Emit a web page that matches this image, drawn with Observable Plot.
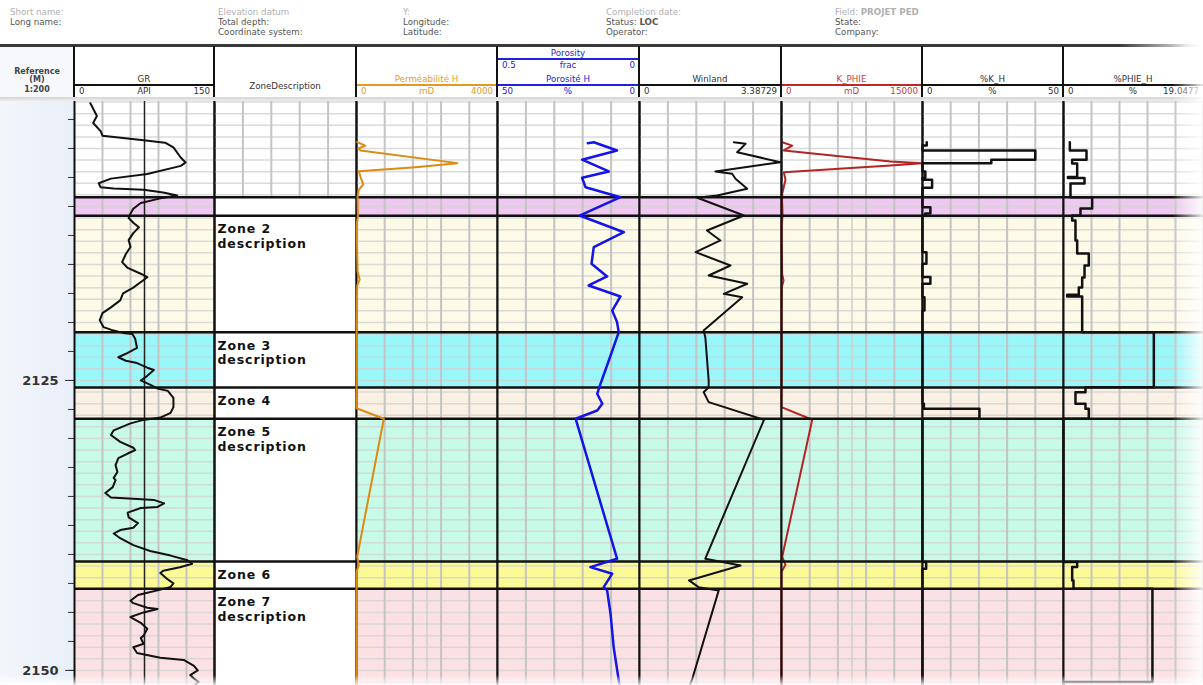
<!DOCTYPE html>
<html><head><meta charset="utf-8">
<script src="https://cdn.jsdelivr.net/npm/d3@7"></script>
<script src="https://cdn.jsdelivr.net/npm/@observablehq/plot@0.6"></script>
<style>
html,body{margin:0;padding:0;background:#fff;}
#root{position:relative;width:1203px;height:685px;overflow:hidden;background:#fff;font-family:"DejaVu Sans",Verdana,sans-serif;}
.t{position:absolute;white-space:nowrap;line-height:1;font-size:8.7px;}
.b{position:absolute;}
.zd text{letter-spacing:0.9px;}
svg{overflow:visible;}
</style></head><body><div id="root"></div>
<script>
// ---------------- DATA ----------------
const depthRange = [2100.95, 2151.3];
const depthMinorTicks = [2102.5,2105,2107.5,2110,2112.5,2115,2117.5,2120,2122.5,2125,2127.5,2130,2132.5,2135,2137.5,2140,2142.5,2145,2147.5,2150];
const depthMajorTicks = [2125, 2150];

const trackNames = ["GR", "ZoneDescription", "Perméabilité H", "Porosité H", "Winland", "K_PHIE", "%K_H", "%PHIE_H"];
const trackUnits = ["API", "", "mD", "%", "", "mD", "%", "%"];
const trackMinLabels = ["0", "", "0", "50", "0", "0", "0", "0"];
const trackMaxLabels = ["150", "", "4000", "0", "3.38729", "15000", "50", "19.0477"];
const trackDomains = [[0,150],[0,1],[0,4000],[50,0],[0,3.38729],[0,15000],[0,50],[0,19.0477]];
const porosityGroup = ["Porosity", "frac", "0.5", "0"];
const grCutoff = [75];

const zoneTop = [2109.2, 2110.8, 2120.85, 2125.6, 2128.3, 2140.6, 2142.95];
const zoneLabel = ["", "Zone 2\ndescription", "Zone 3\ndescription", "Zone 4", "Zone 5\ndescription", "Zone 6", "Zone 7\ndescription"];

const infoRow1 = ["Short name:", "Elevation datum", "Y:", "Completion date:", "Field: <b>PROJET PED</b>"];
const infoRow2 = ["Long name:", "Total depth:", "Longitude:", "Status: <b>LOC</b>", "State:"];
const infoRow3 = ["", "Coordinate system:", "Latitude:", "Operator:", "Company:"];

// [depth, value]
const grLog = [[2101.1,17],[2102.2,24],[2102.8,20],[2103.5,28],[2103.9,30],[2104.3,74],[2104.5,97],[2104.9,106],[2105.8,114],[2106.2,119],[2106.5,114],[2107.2,78],[2107.6,39],[2108.0,26],[2108.35,28],[2108.45,42],[2108.55,74],[2108.8,95],[2109.05,110],[2109.3,92],[2109.7,71],[2110.2,63],[2110.6,60],[2111.0,58],[2111.4,63],[2111.8,69],[2112.3,63],[2112.9,58],[2113.5,60],[2114.1,55],[2114.8,51],[2115.3,57],[2115.8,71],[2116.1,78],[2116.4,73],[2117.0,63],[2117.5,52],[2118.1,49],[2118.4,44],[2118.7,39],[2119.2,30],[2119.8,27],[2120.4,31],[2120.7,42],[2120.9,52],[2121.0,62],[2121.4,65],[2122.2,67],[2122.7,55],[2123.0,47],[2123.3,55],[2123.5,67],[2123.9,78],[2124.1,85],[2124.6,78],[2125.0,71],[2125.4,82],[2125.7,89],[2125.9,100],[2126.5,106],[2127.3,106],[2127.8,103],[2128.2,92],[2128.4,74],[2128.7,60],[2129.3,42],[2129.7,39],[2130.3,49],[2130.8,63],[2131.0,65],[2131.3,57],[2131.7,47],[2132.3,44],[2132.9,46],[2133.4,42],[2133.6,44],[2134.2,41],[2134.7,33],[2135.1,39],[2135.2,63],[2135.3,85],[2135.6,96],[2135.9,89],[2136.0,71],[2136.4,57],[2136.8,58],[2137.3,68],[2137.7,63],[2137.9,49],[2138.2,42],[2138.6,49],[2139.2,63],[2139.7,81],[2140.1,103],[2140.5,121],[2140.8,126],[2141.1,113],[2141.4,95],[2141.6,92],[2142.1,99],[2142.5,106],[2142.8,103],[2143.1,89],[2143.3,78],[2143.5,68],[2144.0,60],[2144.2,63],[2144.6,78],[2144.7,89],[2145.0,74],[2145.4,60],[2145.9,71],[2146.4,78],[2147.0,74],[2147.2,71],[2147.7,74],[2148.0,63],[2148.5,67],[2148.9,92],[2149.1,117],[2149.6,128],[2150.0,132],[2150.4,124],[2150.7,128],[2151.0,133],[2151.3,128]];

const permLog = [[2104.45,20],[2104.75,250],[2105.0,60],[2105.17,110],[2106.09,2430],[2106.27,2860],[2106.61,1670],[2106.96,65],[2107.5,120],[2108.1,190],[2108.6,60],[2109.2,30],[2110.8,40],[2111.5,10],[2113.5,15],[2115.6,30],[2116.3,90],[2116.8,20],[2118.5,10],[2121.0,5],[2124.0,5],[2127.4,0],[2128.3,775],[2140.2,20],[2140.9,66],[2141.5,0],[2151.3,0]];

const porLog = [[2104.54,18.2],[2104.46,16.1],[2105.17,7.9],[2105.97,20.2],[2106.98,10.8],[2107.53,20.2],[2108.34,19.0],[2109.20,6.7],[2110.78,21.1],[2112.22,5.5],[2113.51,16.1],[2114.94,16.9],[2116.03,11.4],[2116.81,17.9],[2117.76,6.7],[2118.97,9.6],[2119.97,7.9],[2120.84,7.3],[2123.28,10.8],[2125.28,13.7],[2126.15,14.9],[2127.01,13.1],[2127.59,14.9],[2128.30,22.5],[2140.37,7.9],[2141.09,17.3],[2141.66,9.6],[2142.82,12.6],[2143.10,11.4],[2145.11,10.2],[2147.99,9.1],[2150.86,7.3],[2151.3,7.0]];

const winLog = [[2104.46,2.25],[2104.60,2.53],[2105.32,2.33],[2106.18,3.36],[2106.98,1.81],[2107.18,2.21],[2107.61,2.29],[2108.47,2.57],[2109.05,1.85],[2109.25,1.38],[2110.78,2.49],[2112.07,1.61],[2112.93,1.93],[2113.94,1.34],[2115.09,2.17],[2115.95,1.65],[2116.66,2.57],[2117.53,2.01],[2117.82,2.45],[2120.69,1.53],[2121.27,1.57],[2125.0,1.65],[2125.58,1.65],[2126.01,1.53],[2126.87,1.65],[2128.39,2.97],[2140.37,1.57],[2140.95,2.41],[2142.24,1.18],[2142.82,1.41],[2143.10,1.89],[2150.72,1.26],[2151.3,1.2]];

const kphieLog = [[2104.46,75],[2104.75,1140],[2105.17,245],[2106.12,11600],[2106.27,14970],[2106.47,11600],[2107.04,245],[2107.7,426],[2108.3,245],[2108.9,75],[2109.5,60],[2110.8,120],[2111.5,30],[2113.0,30],[2115.8,60],[2116.4,220],[2116.9,40],[2119.0,20],[2124.0,20],[2127.3,0],[2128.39,3270],[2140.2,75],[2140.9,426],[2141.5,0],[2151.3,0]];

const khLog = [[2104.46,1.5],[2104.74,0],[2105.17,40],[2105.97,24.4],[2106.27,0],[2106.98,1],[2107.55,0],[2107.70,3.4],[2108.39,0],[2110.06,2.8],[2110.6,1],[2110.78,0],[2113.94,1.4],[2114.94,0],[2116.09,2.8],[2116.66,0],[2117.82,0.7],[2118.97,0],[2127.01,0.5],[2127.44,20.2],[2128.30,0],[2140.66,1.3],[2141.23,0],[2151.3,0]];

const phieLog = [[2104.46,0.86],[2105.17,3.13],[2105.97,1.18],[2106.29,1.86],[2107.45,0.6],[2107.55,2.86],[2108.02,0.95],[2109.20,3.90],[2110.17,2.31],[2110.78,1.18],[2111.21,1.63],[2112.93,1.86],[2114.05,3.44],[2115.09,2.86],[2116.12,2.54],[2116.98,2.08],[2117.62,0.5],[2117.76,2.54],[2120.84,12.29],[2125.58,2.99],[2126.01,1.63],[2127.01,2.99],[2127.44,3.44],[2128.30,0],[2140.66,1.86],[2141.09,1.18],[2142.24,1.36],[2142.96,12.1],[2151.0,0],[2151.3,0]];

// ---------------- LAYOUT / STYLE ----------------
const trackEdges = [74, 214, 356, 497, 639, 781, 922, 1063, 1203];
const trackHeaderColors = ["#333", "#333", "#e39b2d", "#2424d4", "#333", "#c83c3c", "#333", "#333"];
const trackLineColors = ["#111", null, "#e39a22", "#2020e0", "#111", "#c02828", "#111", "#111"];
const zoneColor = ["#eec8f0", "#fdfae8", "#99f7fa", "#faf0e4", "#c8fae8", "#fcfa96", "#fce1e4"];
const infoCols = [10, 218, 403, 606, 835];
const PLOT_TOP = 101, PLOT_H = 584;

const root = document.getElementById("root");
function box(x, y, w, h, bg) {
  const el = document.createElement("div");
  el.className = "b";
  Object.assign(el.style, {left: x + "px", top: y + "px", width: w + "px", height: h + "px", background: bg});
  root.appendChild(el);
  return el;
}
function text(x, y, s, o = {}) {
  const el = document.createElement("div");
  el.className = "t";
  const tx = o.anchor === "middle" ? "-50%" : o.anchor === "end" ? "-100%" : "0";
  Object.assign(el.style, {left: x + "px", top: y + "px", color: o.color || "#333",
    fontSize: (o.size || 8.7) + "px", fontWeight: o.weight || "normal", transform: `translate(${tx},-50%)`});
  el.innerHTML = s;
  root.appendChild(el);
  return el;
}

// backgrounds
box(0, 46, 74, 51, "#f6f8fb");
box(0, PLOT_TOP, 74, PLOT_H, "linear-gradient(to right,#f3f6fb,#e9eff8)");

// info header
infoCols.forEach((x, i) => {
  text(x, 12, infoRow1[i], {color: "#b0b0b0"});
  text(x, 21.5, infoRow2[i], {color: "#555"});
  text(x, 32, infoRow3[i], {color: "#555"});
});
box(0, 44, 1203, 2.5, "linear-gradient(to right,#3a3a3a 0,#3a3a3a 93%,rgba(58,58,58,0) 100%)");

// track headers
text(37, 71.5, "Reference", {anchor: "middle", weight: "bold", size: 8, color: "#444"});
text(37, 80, "(M)", {anchor: "middle", weight: "bold", size: 8, color: "#444"});
text(37, 89.5, "1:200", {anchor: "middle", weight: "bold", size: 8, color: "#444"});
trackNames.forEach((name, i) => {
  const L = trackEdges[i], W = trackEdges[i + 1] - L, cx = L + W / 2, c = trackHeaderColors[i];
  if (i === 1) { text(cx, 86, name, {anchor: "middle", color: c}); return; }
  text(cx, 78.5, name, {anchor: "middle", color: c});
  box(L, 83.5, W, 2.2, trackLineColors[i]);
  text(L + 5, 91, trackMinLabels[i], {color: c});
  text(cx, 91, trackUnits[i], {anchor: "middle", color: c});
  text(L + W - 4, 91, trackMaxLabels[i], {anchor: "end", color: c});
  if (i === 3) {
    text(cx, 52.5, porosityGroup[0], {anchor: "middle", color: c});
    box(L, 58, W, 2.2, trackLineColors[i]);
    text(cx, 65, porosityGroup[1], {anchor: "middle", color: c});
    text(L + 5, 65, porosityGroup[2], {color: c});
    text(L + W - 4, 65, porosityGroup[3], {anchor: "end", color: c});
  }
});
trackEdges.slice(0, -1).forEach(x => box(x - 1, 46, 2, 51, "#111"));
box(0, 96.5, 1203, 4.5, "linear-gradient(to bottom,#d4d4d4,#ececec)");

// ---------------- PLOTS ----------------
const zones = zoneTop.map((t, k) => ({top: t, bottom: k < zoneTop.length - 1 ? zoneTop[k + 1] : depthRange[1], color: zoneColor[k], label: zoneLabel[k]}));
const hGrid = d3.range(Math.ceil(depthRange[0]), depthRange[1], 1);
const curve = (data, o) => Plot.line(data, {x: d => d[1], y: d => d[0], ...o});

function place(svg, left) {
  const wrap = document.createElement("div");
  wrap.className = "b";
  wrap.style.left = left + "px"; wrap.style.top = PLOT_TOP + "px";
  wrap.appendChild(svg);
  root.appendChild(wrap);
}

function buildTrack(i, curveMarks, o = {}) {
  const L = trackEdges[i], W = trackEdges[i + 1] - L, dom = trackDomains[i];
  const vGrid = d3.range(1, 5).map(k => dom[0] + (dom[1] - dom[0]) * k / 5);
  const marks = [];
  if (o.desc) {
    marks.push(Plot.ruleY(hGrid.filter(d => d < zoneTop[0]), {stroke: "#dadada", strokeWidth: 1.5}));
    marks.push(Plot.ruleX(vGrid, {y1: depthRange[0], y2: zoneTop[0], stroke: "#c4c4c4", strokeWidth: 2}));
  } else {
    marks.push(Plot.rect(zones, {x1: dom[0], x2: dom[1], y1: "top", y2: "bottom", fill: "color"}));
    marks.push(Plot.ruleY(hGrid, {stroke: "#d2d2d2", strokeOpacity: 0.8, strokeWidth: 1.5}));
    marks.push(Plot.ruleX(vGrid, {stroke: "#c4c4c4", strokeWidth: 2}));
    if (o.mid) marks.push(Plot.ruleX([(dom[0] + dom[1]) / 2], {stroke: "#cfcfcf", strokeWidth: 1.5}));
  }
  if (o.cutoff) marks.push(Plot.ruleX(o.cutoff, {stroke: "#222", strokeWidth: 1.5}));
  const border = Plot.ruleX(dom, {stroke: "#111", strokeWidth: 2});
  const zoneRules = Plot.ruleY(zoneTop, {stroke: "#111", strokeWidth: 2.5});
  if (o.borderOnTop) {
    marks.push(...curveMarks, border, zoneRules);
  } else {
    marks.push(border, zoneRules);
    if (o.desc) {
      marks.push(Plot.text(zones.filter(z => z.label), {x: dom[0], y: "top", text: "label", dx: 3, dy: 7,
        textAnchor: "start", lineAnchor: "top", lineHeight: 1.17, fontSize: 12.5, fontWeight: "bold",
        fill: "#111", fontFamily: "DejaVu Sans"}));
    }
    marks.push(...curveMarks);
  }
  const svg = Plot.plot({
    width: W, height: PLOT_H, margin: 0,
    className: o.desc ? "zd" : undefined,
    x: {domain: dom, axis: null},
    y: {domain: depthRange, reverse: true, axis: null},
    color: {type: "identity"},
    style: {background: "transparent", overflow: "visible"},
    marks
  });
  place(svg, L);
}

// depth axis
const depthSvg = Plot.plot({
  width: 75, height: PLOT_H, marginLeft: 74, marginRight: 0, marginTop: 0, marginBottom: 0,
  y: {domain: depthRange, reverse: true},
  style: {background: "transparent", overflow: "visible"},
  marks: [
    Plot.axisY(depthMinorTicks, {anchor: "left", tickSize: 6, tickFormat: () => "", label: null, stroke: "#333"}),
    Plot.axisY(depthMajorTicks, {anchor: "left", tickSize: 9, tickPadding: 7, tickFormat: d => String(d), label: null,
      fontSize: 13, fontWeight: "bold", fontFamily: "DejaVu Sans", fill: "#333", stroke: "#333"})
  ]
});
place(depthSvg, 0);

buildTrack(0, [curve(grLog, {stroke: "#111", strokeWidth: 2})], {cutoff: grCutoff});
buildTrack(1, [], {desc: true});
buildTrack(2, [curve(permLog, {stroke: "#dc8a12", strokeWidth: 2})], {mid: true});
buildTrack(3, [curve(porLog, {stroke: "#1414e6", strokeWidth: 2.5})]);
buildTrack(4, [curve(winLog, {stroke: "#111", strokeWidth: 2})]);
buildTrack(5, [curve(kphieLog, {stroke: "#b42424", strokeWidth: 2})], {mid: true, borderOnTop: true});
buildTrack(6, [curve(khLog, {stroke: "#111", strokeWidth: 2.5, curve: "step-before"})]);
buildTrack(7, [curve(phieLog, {stroke: "#111", strokeWidth: 2.5, curve: "step-before"})]);

// edge fades
box(1172, 40, 31, 645, "linear-gradient(to right,rgba(255,255,255,0),rgba(255,255,255,0.9))");
box(0, 675, 1203, 10, "linear-gradient(to bottom,rgba(255,255,255,0),rgba(255,255,255,0.85))");
</script></body></html>
